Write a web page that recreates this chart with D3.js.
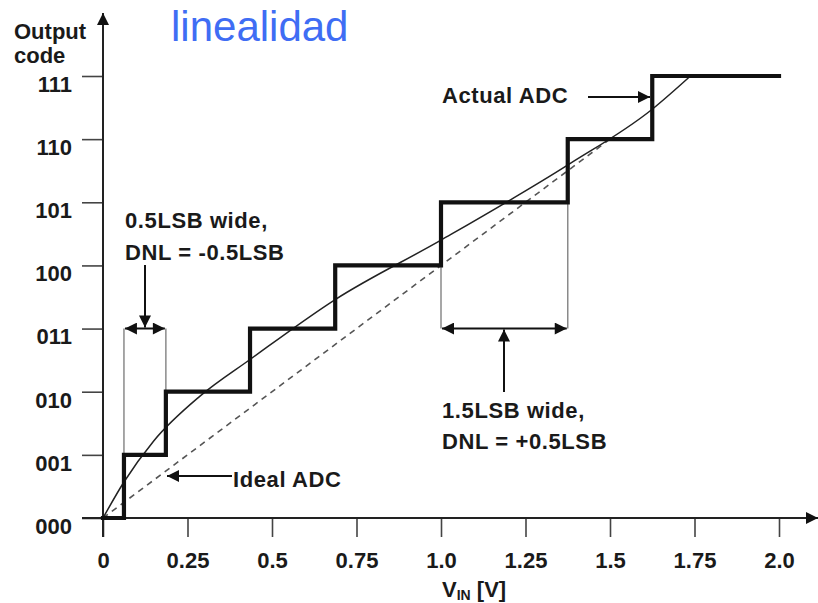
<!DOCTYPE html>
<html>
<head>
<meta charset="utf-8">
<script src="https://cdn.jsdelivr.net/npm/d3@7"></script>
<style>
  html, body { margin: 0; padding: 0; background: #fff; }
  svg { display: block; }
  .lbl { font-family: "Liberation Sans", Arial, sans-serif; font-weight: bold; font-size: 22px; fill: #1a1a1a; }
  .ann { letter-spacing: 0.6px; }
</style>
</head>
<body>
<svg id="chart" width="818" height="603"></svg>
<script>
// ---------- data ----------
const xTicks = [0, 0.25, 0.5, 0.75, 1.0, 1.25, 1.5, 1.75, 2.0];
const xTickLabels = ["0", "0.25", "0.5", "0.75", "1.0", "1.25", "1.5", "1.75", "2.0"];
const codeLevels = [0, 1, 2, 3, 4, 5, 6, 7];
const codeLabels = ["000", "001", "010", "011", "100", "101", "110", "111"];
// actual ADC code transition voltages (V) -> code 1..7
const transitionV = [0.062, 0.186, 0.435, 0.687, 1.0, 1.375, 1.625];
const vEnd = 2.0;
// actual ADC transfer curve (thin line)
const curveV    = [0, 0.062, 0.15, 0.287, 0.435, 0.687, 1.0, 1.378, 1.624, 1.738];
const curveCode = [0, 0.57, 1.22, 1.93, 2.51, 3.46, 4.4, 5.6, 6.47, 7.0];
// ideal ADC (dashed)
const idealV    = [0, 1.5];
const idealCode = [0, 6];

// ---------- layout ----------
const svg = d3.select("#chart");
const x = d3.scaleLinear().domain([0, 2]).range([103, 779]);
const y = d3.scaleLinear().domain([0, 7]).range([518, 76]);

const defs = svg.append("defs");
defs.append("marker")
  .attr("id", "arrow")
  .attr("viewBox", "0 0 10 10")
  .attr("refX", 10).attr("refY", 5)
  .attr("markerUnits", "userSpaceOnUse")
  .attr("markerWidth", 13).attr("markerHeight", 12)
  .attr("orient", "auto-start-reverse")
  .append("path").attr("d", "M0,0 L10,5 L0,10 Z").attr("fill", "#111");

// title
svg.append("text")
  .attr("x", 171).attr("y", 41)
  .attr("font-family", "'Liberation Sans', Arial, sans-serif")
  .attr("font-size", 42)
  .attr("fill", "#3f6df4")
  .text("linealidad");

// y axis label
svg.append("text").attr("class", "lbl").attr("x", 14).attr("y", 39).text("Output");
svg.append("text").attr("class", "lbl").attr("x", 14).attr("y", 63).text("code");

// x axis ticks
const xAxis = d3.axisBottom(x)
  .tickValues(xTicks)
  .tickFormat((d, i) => xTickLabels[i])
  .tickSize(19).tickPadding(15);
const gx = svg.append("g").attr("transform", `translate(0,${y(0)})`).call(xAxis);
gx.select(".domain").remove();
gx.selectAll(".tick line").attr("stroke", "#444").attr("stroke-width", 1.6);
gx.selectAll(".tick text").attr("class", "lbl").attr("fill", null);

// y axis ticks
const yAxis = d3.axisLeft(y)
  .tickValues(codeLevels)
  .tickFormat((d, i) => codeLabels[i])
  .tickSize(21).tickPadding(10);
const gy = svg.append("g").attr("transform", `translate(${x(0)},0)`).call(yAxis);
gy.select(".domain").remove();
gy.selectAll(".tick line").attr("stroke", "#444").attr("stroke-width", 1.6);
gy.selectAll(".tick text").attr("class", "lbl").attr("fill", null).attr("dy", "0.7em");

// axis lines with arrows
svg.append("line")
  .attr("x1", 82).attr("y1", y(0)).attr("x2", 818).attr("y2", y(0))
  .attr("stroke", "#222").attr("stroke-width", 2).attr("marker-end", "url(#arrow)");
svg.append("line")
  .attr("x1", x(0)).attr("y1", 537).attr("x2", x(0)).attr("y2", 13)
  .attr("stroke", "#222").attr("stroke-width", 2).attr("marker-end", "url(#arrow)");

// x axis title
const xt = svg.append("text").attr("class", "lbl").attr("x", 442).attr("y", 597);
xt.append("tspan").text("V");
xt.append("tspan").attr("font-size", 14).attr("dy", 3).text("IN");
xt.append("tspan").attr("dy", -3).text(" [V]");

// grey width-marker verticals
const grey = "#8a8a8a";
const markerY = y(3);
[[transitionV[0], 1], [transitionV[1], 2], [transitionV[4], 4], [transitionV[5], 5]].forEach(([v, c]) => {
  svg.append("line")
    .attr("x1", x(v)).attr("x2", x(v))
    .attr("y1", markerY).attr("y2", y(c))
    .attr("stroke", grey).attr("stroke-width", 1.5);
});

// ideal ADC (dashed)
const lineGen = d3.line().x(d => x(d[0])).y(d => y(d[1]));
svg.append("path")
  .datum(idealV.map((v, i) => [v, idealCode[i]]))
  .attr("d", lineGen)
  .attr("fill", "none").attr("stroke", "#555").attr("stroke-width", 1.6)
  .attr("stroke-dasharray", "6,5");

// actual curve (thin)
svg.append("path")
  .datum(curveV.map((v, i) => [v, curveCode[i]]))
  .attr("d", d3.line().x(d => x(d[0])).y(d => y(d[1])).curve(d3.curveMonotoneX))
  .attr("fill", "none").attr("stroke", "#222").attr("stroke-width", 1.5);

// staircase (actual ADC output)
const stairs = [[0, 0]].concat(transitionV.map((v, i) => [v, i + 1])).concat([[vEnd, 7]]);
svg.append("path")
  .datum(stairs)
  .attr("d", d3.line().x(d => x(d[0])).y(d => y(d[1])).curve(d3.curveStepAfter))
  .attr("fill", "none").attr("stroke", "#111").attr("stroke-width", 4.2)
  .attr("stroke-linejoin", "miter").attr("stroke-linecap", "square");

// annotation helpers
function arrow(x1, y1, x2, y2, both) {
  const l = svg.append("line")
    .attr("x1", x1).attr("y1", y1).attr("x2", x2).attr("y2", y2)
    .attr("stroke", "#111").attr("stroke-width", 2)
    .attr("marker-end", "url(#arrow)");
  if (both) l.attr("marker-start", "url(#arrow)");
}
function ann(tx, ty, s) {
  svg.append("text").attr("class", "lbl ann").attr("x", tx).attr("y", ty).text(s);
}

// 0.5LSB annotation
ann(125, 228, "0.5LSB wide,");
ann(125, 260, "DNL = -0.5LSB");
arrow(x(transitionV[0]) + 1, markerY, x(transitionV[1]) - 1, markerY, true);
arrow(145, 265, 145, markerY - 1, false);

// 1.5LSB annotation
arrow(x(transitionV[4]) + 1, markerY, x(transitionV[5]) - 1, markerY, true);
arrow(504, 392, 504, markerY + 1, false);
ann(442, 418, "1.5LSB wide,");
ann(442, 449, "DNL = +0.5LSB");

// Actual ADC label
ann(442, 103, "Actual ADC");
arrow(588, 97, 650, 97, false);

// Ideal ADC label
ann(233, 487, "Ideal ADC");
arrow(232, 476, 167, 476, false);
</script>
</body>
</html>
